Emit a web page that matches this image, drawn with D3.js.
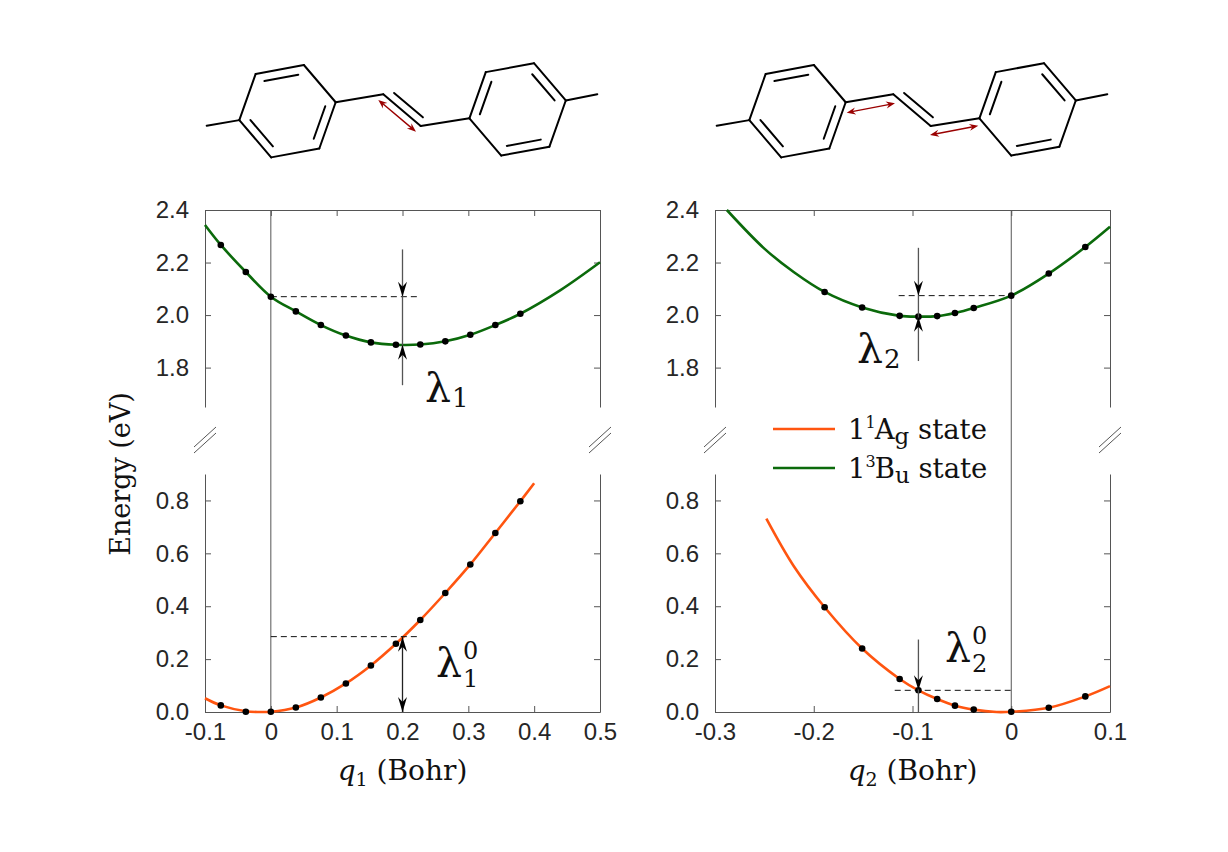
<!DOCTYPE html>
<html lang="en">
<head>
<meta charset="utf-8">
<title>Stilbene: reorganization along q1 and q2</title>
<script src="https://cdn.jsdelivr.net/npm/d3@7"></script>
<style>
  body{margin:0;background:#fff;}
  .tick text{font-family:"Liberation Sans",Arial,sans-serif;font-size:24px;fill:#262626;}
  .serif{font-family:"DejaVu Serif",serif;fill:#111;}
</style>
</head>
<body>
<div id="chart"></div>
<script>
// ---- tick labels
var q1Ticks = [-0.1, 0, 0.1, 0.2, 0.3, 0.4, 0.5]
var q2Ticks = [-0.3, -0.2, -0.1, 0, 0.1]
var eHighTicks = [1.8, 2.0, 2.2, 2.4]
var eLowTicks = [0, 0.2, 0.4, 0.6, 0.8]

// ---- q1 panel: [q, E]
var q1BuLine = [[-0.1,2.343],[-0.076,2.267],[-0.038,2.164],[0,2.070],[0.038,2.014],[0.076,1.962],[0.114,1.922],[0.152,1.896],[0.19,1.887],[0.227,1.888],[0.265,1.900],[0.303,1.925],[0.341,1.962],[0.379,2.005],[0.44,2.095],[0.5,2.201]]
var q1BuDots = [[-0.076,2.267],[-0.038,2.164],[0,2.070],[0.038,2.014],[0.076,1.962],[0.114,1.922],[0.152,1.896],[0.19,1.887],[0.227,1.888],[0.265,1.900],[0.303,1.925],[0.341,1.962],[0.379,2.005]]
var q1AgLine = [[-0.1,0.052],[-0.076,0.025],[-0.038,0.003],[-0.018,0.0],[0,0.001],[0.038,0.017],[0.076,0.055],[0.114,0.108],[0.152,0.176],[0.19,0.258],[0.227,0.348],[0.265,0.450],[0.303,0.558],[0.341,0.677],[0.379,0.797],[0.4,0.865]]
var q1AgDots = [[-0.076,0.025],[-0.038,0.001],[0,0.001],[0.038,0.017],[0.076,0.055],[0.114,0.108],[0.152,0.176],[0.19,0.258],[0.227,0.348],[0.265,0.450],[0.303,0.558],[0.341,0.677],[0.379,0.797]]

// ---- q2 panel: [q, E]
var q2BuLine = [[-0.288,2.4],[-0.25,2.253],[-0.22,2.163],[-0.189,2.088],[-0.151,2.029],[-0.113,1.997],[-0.094,1.994],[-0.075,1.996],[-0.057,2.008],[-0.038,2.027],[0,2.074],[0.038,2.158],[0.075,2.259],[0.1,2.336]]
var q2BuDots = [[-0.189,2.088],[-0.151,2.029],[-0.113,1.997],[-0.094,1.994],[-0.075,1.996],[-0.057,2.008],[-0.038,2.027],[0,2.074],[0.038,2.158],[0.075,2.259]]
var q2AgLine = [[-0.248,0.731],[-0.22,0.55],[-0.189,0.396],[-0.151,0.240],[-0.113,0.125],[-0.094,0.082],[-0.075,0.049],[-0.057,0.024],[-0.038,0.009],[-0.015,0.0],[0,0.001],[0.038,0.016],[0.075,0.059],[0.1,0.098]]
var q2AgDots = [[-0.189,0.396],[-0.151,0.240],[-0.113,0.125],[-0.094,0.082],[-0.075,0.049],[-0.057,0.024],[-0.038,0.009],[0,0.001],[0.038,0.016],[0.075,0.059]]

// ---- reorganization markers: [q of arrow, E of dashed line, E at minimum]
var lambda1 = [0.2, 2.07, 1.887]
var lambda1zero = [0.2, 0.285, 0]
var lambda2 = [-0.094, 2.074, 1.994]
var lambda2zero = [-0.094, 0.082, 0]

// ---- legend
var legendNames = ["A", "B"]
var legendSup = ["1", "3"]
var legendSub = ["g", "u"]

var orange = "#ff5510", green = "#0b6a0b", axisGray = "#555"

var svg = d3.select("#chart").append("svg").attr("width", 1228).attr("height", 852)
svg.append("rect").attr("width", 1228).attr("height", 852).attr("fill", "#fff")

var yHigh = d3.scaleLinear().domain([1.65, 2.4]).range([407, 210])
var yLow = d3.scaleLinear().domain([0, 0.9]).range([712, 474])

var panels = [
  {xDomain:[-0.1,0.5], left:205, right:600, ticks:q1Ticks, sub:"1",
   bu:q1BuLine, buDots:q1BuDots, ag:q1AgLine, agDots:q1AgDots,
   hi:lambda1, lo:lambda1zero, hiDash:[0,0.224], loDash:[0,0.224],
   hiArrow:[2.25,1.733], loBothHeads:true,
   hiLabel:[425,402], loLabel:[436,677], loSupDy:-18},
  {xDomain:[-0.3,0.1], left:715, right:1110, ticks:q2Ticks, sub:"2",
   bu:q2BuLine, buDots:q2BuDots, ag:q2AgLine, agDots:q2AgDots,
   hi:lambda2, lo:lambda2zero, hiDash:[-0.114,0], loDash:[-0.118,0],
   hiArrow:[2.256,1.825], loTop:0.274, loBothHeads:false,
   hiLabel:[857,363], loLabel:[945,662], loSupDy:-18}
]

panels.forEach(drawPanel)
drawLegend()
drawYLabel()
drawMolecule(svg.append("g"), [[[378.3,100],[416,131.7]]])
drawMolecule(svg.append("g").attr("transform","translate(510,0)"), [[[336.7,112.7],[385,103.3]],[[420,135],[468.3,125.7]]])

function styleAxis(g){
  g.selectAll("path,line").attr("stroke", axisGray).attr("stroke-width", 1)
}

function drawPanel(p){
  var x = d3.scaleLinear().domain(p.xDomain).range([p.left, p.right])
  var g = svg.append("g")

  // axes
  g.append("g").attr("transform","translate(0,712)")
    .call(d3.axisBottom(x).tickValues(p.ticks).tickFormat(function(d){return String(d)}).tickSizeInner(-6).tickSizeOuter(0).tickPadding(11))
    .call(styleAxis)
  g.append("g").attr("transform","translate(0,210)")
    .call(d3.axisTop(x).tickValues(p.ticks).tickFormat("").tickSizeInner(-6).tickSizeOuter(0))
    .call(styleAxis)
  g.append("g").attr("transform","translate("+p.left+",0)")
    .call(d3.axisLeft(yHigh).tickValues(eHighTicks).tickFormat(d3.format(".1f")).tickSizeInner(-6).tickSizeOuter(0).tickPadding(16))
    .call(styleAxis)
  g.append("g").attr("transform","translate("+p.left+",0)")
    .call(d3.axisLeft(yLow).tickValues(eLowTicks).tickFormat(d3.format(".1f")).tickSizeInner(-6).tickSizeOuter(0).tickPadding(16))
    .call(styleAxis)
  g.append("g").attr("transform","translate("+p.right+",0)")
    .call(d3.axisRight(yHigh).tickValues(eHighTicks).tickFormat("").tickSizeInner(-6).tickSizeOuter(0))
    .call(styleAxis)
  g.append("g").attr("transform","translate("+p.right+",0)")
    .call(d3.axisRight(yLow).tickValues(eLowTicks).tickFormat("").tickSizeInner(-6).tickSizeOuter(0))
    .call(styleAxis)

  // axis break marks
  ;[p.left, p.right].forEach(function(bx){
    g.append("line").attr("x1",bx-11).attr("y1",453).attr("x2",bx+11).attr("y2",433).attr("stroke",axisGray)
    g.append("line").attr("x1",bx-11).attr("y1",447).attr("x2",bx+11).attr("y2",427).attr("stroke",axisGray)
  })

  // q = 0 line
  g.append("line").attr("x1",x(0)).attr("x2",x(0)).attr("y1",210).attr("y2",712)
    .attr("stroke",axisGray).attr("stroke-width",1)

  // curves
  var lineHigh = d3.line().x(function(d){return x(d[0])}).y(function(d){return yHigh(d[1])}).curve(d3.curveCatmullRom.alpha(0.5))
  var lineLow = d3.line().x(function(d){return x(d[0])}).y(function(d){return yLow(d[1])}).curve(d3.curveCatmullRom.alpha(0.5))
  g.append("path").attr("d",lineHigh(p.bu)).attr("fill","none").attr("stroke",green).attr("stroke-width",2.6)
  g.append("path").attr("d",lineLow(p.ag)).attr("fill","none").attr("stroke",orange).attr("stroke-width",2.6)

  // dashed reference lines
  g.append("line").attr("x1",x(p.hiDash[0])).attr("x2",x(p.hiDash[1])).attr("y1",yHigh(p.hi[1])).attr("y2",yHigh(p.hi[1]))
    .attr("stroke","#111").attr("stroke-dasharray","6,4")
  g.append("line").attr("x1",x(p.loDash[0])).attr("x2",x(p.loDash[1])).attr("y1",yLow(p.lo[1])).attr("y2",yLow(p.lo[1]))
    .attr("stroke","#111").attr("stroke-dasharray","6,4")

  // dots
  g.selectAll(".buDot").data(p.buDots).enter().append("circle").attr("class","buDot")
    .attr("cx",function(d){return x(d[0])}).attr("cy",function(d){return yHigh(d[1])}).attr("r",3.3).attr("fill","#000")
  g.selectAll(".agDot").data(p.agDots).enter().append("circle").attr("class","agDot")
    .attr("cx",function(d){return x(d[0])}).attr("cy",function(d){return yLow(d[1])}).attr("r",3.3).attr("fill","#000")

  // lambda arrows, upper
  var ax = x(p.hi[0])
  g.append("line").attr("x1",ax).attr("x2",ax).attr("y1",yHigh(p.hiArrow[0])).attr("y2",yHigh(p.hiArrow[1]))
    .attr("stroke",axisGray).attr("stroke-width",1.3)
  arrowHead(g, ax, yHigh(p.hi[1]), 1)
  arrowHead(g, ax, yHigh(p.hi[2]), -1)

  // lambda arrows, lower
  var bx = x(p.lo[0])
  var topE = p.loBothHeads ? p.lo[1] : p.loTop
  g.append("line").attr("x1",bx).attr("x2",bx).attr("y1",yLow(topE)).attr("y2",yLow(p.lo[2]))
    .attr("stroke",p.loBothHeads ? "#222" : axisGray).attr("stroke-width",1.3)
  if(p.loBothHeads){
    arrowHead(g, bx, yLow(p.lo[1]), -1)
    arrowHead(g, bx, yLow(p.lo[2]), 1)
  } else {
    arrowHead(g, bx, yLow(p.lo[1]), 1)
  }

  lambdaLabel(g, p.hiLabel[0], p.hiLabel[1], p.sub, null, 5, 0)
  lambdaLabel(g, p.loLabel[0], p.loLabel[1], p.sub, "0", 10, p.loSupDy)

  // x title
  var t = g.append("text").attr("class","serif").attr("x",(p.left+p.right)/2).attr("y",780).attr("text-anchor","middle")
  t.append("tspan").attr("font-size",28).attr("font-style","italic").text("q")
  t.append("tspan").attr("font-size",19).attr("dy",6).text(p.sub)
  t.append("tspan").attr("font-size",28).attr("dy",-6).text(" (Bohr)")
}

function arrowHead(g, x, yTip, dir){
  // dir 1 = pointing down, -1 = pointing up
  var d = "M"+x+","+yTip+" L"+(x-4.5)+","+(yTip-dir*15)+" L"+x+","+(yTip-dir*10)+" L"+(x+4.5)+","+(yTip-dir*15)+" Z"
  g.append("path").attr("d",d).attr("fill","#000")
}

function lambdaLabel(g, x, y, sub, sup, subDy, supDy){
  var l = g.append("text").attr("class","serif").attr("x",x).attr("y",y).attr("font-size",41).text("λ")
  var w = l.node().getComputedTextLength()
  g.append("text").attr("class","serif").attr("x",x+w+1).attr("y",y+subDy).attr("font-size",sup ? 24 : 26).text(sub)
  if(sup){
    g.append("text").attr("class","serif").attr("x",x+w+1).attr("y",y+supDy).attr("font-size",24).text(sup)
  }
}

function drawLegend(){
  var colors = [orange, green]
  var rowsY = [429, 468]
  legendNames.forEach(function(name,i){
    svg.append("line").attr("x1",773).attr("x2",835).attr("y1",rowsY[i]).attr("y2",rowsY[i])
      .attr("stroke",colors[i]).attr("stroke-width",2.6)
    var t = svg.append("text").attr("class","serif").attr("x",848).attr("y",rowsY[i]+10).attr("font-size",27.5)
    t.append("tspan").text("1")
    t.append("tspan").attr("font-size",16).attr("dy",-11).text(legendSup[i])
    t.append("tspan").attr("dy",11).attr("dx",-1).text(name)
    t.append("tspan").attr("font-size",23).attr("dy",5).text(legendSub[i])
    t.append("tspan").attr("dy",-5).text(" state")
  })
}

function drawYLabel(){
  svg.append("text").attr("class","serif").attr("font-size",27).attr("text-anchor","middle")
    .attr("transform","translate(130,474) rotate(-90)").text("Energy (eV)")
}

function drawMolecule(g, arrows){
  var rings = [[287.5,111.2],[517.6,109.4]]
  var r = 49, a0 = 169.5
  var pts = rings.map(function(c){
    return d3.range(6).map(function(k){
      var a = (a0 + 60*k)*Math.PI/180
      return [c[0]+r*Math.cos(a), c[1]+r*Math.sin(a)]
    })
  })
  var doubles = [[[1,2],[3,4],[5,0]], [[0,1],[2,3],[4,5]]]
  var bond = function(p1,p2){
    g.append("line").attr("x1",p1[0]).attr("y1",p1[1]).attr("x2",p2[0]).attr("y2",p2[1])
      .attr("stroke","#000").attr("stroke-width",2).attr("stroke-linecap","round")
  }
  pts.forEach(function(v,ri){
    for(var k=0;k<6;k++) bond(v[k], v[(k+1)%6])
    var c = rings[ri]
    doubles[ri].forEach(function(e){
      var p1 = [c[0]+0.8*(v[e[0]][0]-c[0]), c[1]+0.8*(v[e[0]][1]-c[1])]
      var p2 = [c[0]+0.8*(v[e[1]][0]-c[0]), c[1]+0.8*(v[e[1]][1]-c[1])]
      var dx = p2[0]-p1[0], dy = p2[1]-p1[1]
      bond([p1[0]+0.06*dx,p1[1]+0.06*dy],[p2[0]-0.06*dx,p2[1]-0.06*dy])
    })
  })
  var m1 = [206.7,125.7], v1 = [383.3,94.3], v2 = [420.7,126], m2 = [597.3,94.3]
  bond(m1, pts[0][0])
  bond(pts[0][3], v1)
  bond(v1, v2)
  bond(v2, pts[1][0])
  bond(pts[1][3], m2)
  // second line of the vinyl double bond
  var bx = v2[0]-v1[0], by = v2[1]-v1[1], bl = Math.sqrt(bx*bx+by*by)
  var nx = by/bl, ny = -bx/bl
  bond([v1[0]+8*nx+0.15*bx, v1[1]+8*ny+0.15*by],[v2[0]+8*nx-0.08*bx, v2[1]+8*ny-0.08*by])

  // displacement arrows
  arrows.forEach(function(a){
    var s = a[0], e = a[1]
    var dx = e[0]-s[0], dy = e[1]-s[1], len = Math.sqrt(dx*dx+dy*dy)
    var ux = dx/len, uy = dy/len
    g.append("line").attr("x1",s[0]+ux*4).attr("y1",s[1]+uy*4).attr("x2",e[0]-ux*4).attr("y2",e[1]-uy*4)
      .attr("stroke","#9a0000").attr("stroke-width",1.4)
    ;[[e,1],[s,-1]].forEach(function(h){
      var tip = h[0], sgn = h[1]
      var bxp = tip[0]-sgn*ux*9, byp = tip[1]-sgn*uy*9
      var d = "M"+tip[0]+","+tip[1]+" L"+(bxp-uy*3.5)+","+(byp+ux*3.5)+" L"+(tip[0]-sgn*ux*6)+","+(tip[1]-sgn*uy*6)+" L"+(bxp+uy*3.5)+","+(byp-ux*3.5)+" Z"
      g.append("path").attr("d",d).attr("fill","#9a0000")
    })
  })
}
</script>
</body>
</html>
